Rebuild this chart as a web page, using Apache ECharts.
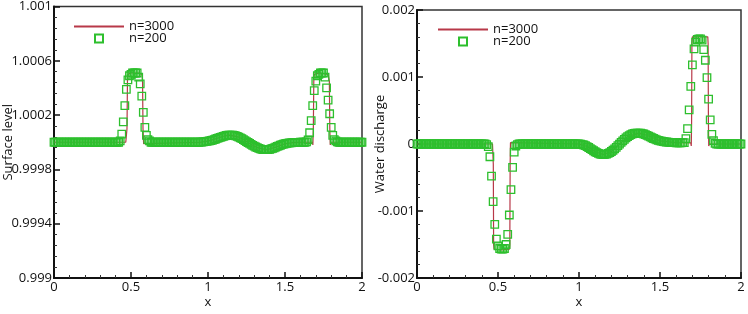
<!DOCTYPE html>
<html>
<head>
<meta charset="utf-8">
<script src="https://cdn.jsdelivr.net/npm/echarts@6/dist/echarts.min.js"></script>
<style>
  html, body { margin: 0; padding: 0; background: #fff; }
  #main { width: 748px; height: 314px; }
</style>
</head>
<body>
<div id="main"></div>
<script>
// n=200 mesh values, one per cell (x = 0, 0.01, ... 2)
var level200 = [
  1, 1, 1, 1, 1, 1, 1, 1, 1, 1,
  1, 1, 1, 1, 1, 1, 1, 1, 1, 1,
  1, 1, 1, 1, 1, 1, 1, 1, 1, 1,
  1, 1, 1, 1, 1, 1, 1, 1, 1, 1,
  1, 1, 1, 1.00001, 1.00006, 1.00015, 1.00027, 1.00039, 1.00046, 1.00049,
  1.0005, 1.00051, 1.00051, 1.00051, 1.00051, 1.00048, 1.00043, 1.00034, 1.00022, 1.00011,
  1.00005, 1.00002, 1.00001, 1, 1, 1, 1, 1, 1, 1,
  1, 1, 1, 1, 1, 1, 1, 1, 1, 1,
  1, 1, 1, 1, 1, 1, 1, 1, 1, 1,
  1, 1, 1, 1, 1, 1.000001, 1.000002, 1.000003, 1.000004, 1.000006,
  1.000008, 1.00001, 1.000013, 1.000016, 1.00002, 1.000024, 1.000028, 1.000032, 1.000036, 1.00004,
  1.000044, 1.000047, 1.00005, 1.000052, 1.000053, 1.000053, 1.000052, 1.00005, 1.000047, 1.000043,
  1.000038, 1.000032, 1.000026, 1.000019, 1.000012, 1.000005, 0.999998, 0.999991, 0.999984, 0.999977,
  0.999971, 0.999965, 0.99996, 0.999955, 0.999951, 0.999948, 0.999946, 0.999945, 0.999945, 0.999946,
  0.999948, 0.999951, 0.999955, 0.999959, 0.999964, 0.999969, 0.999974, 0.999978, 0.999982, 0.999986,
  0.999989, 0.999991, 0.999993, 0.999995, 0.999996, 0.999997, 0.999998, 0.999998, 0.999999, 0.999999,
  1, 1, 1, 1, 1.000003, 1.000018, 1.00007, 1.00016, 1.00027, 1.00038,
  1.00045, 1.00049, 1.0005, 1.00051, 1.00051, 1.00051, 1.00048, 1.0004, 1.00031, 1.00021,
  1.00011, 1.00005, 1.00002, 1.00001, 1.000003, 1, 1, 1, 1, 1,
  1, 1, 1, 1, 1, 1, 1, 1, 1, 1,
  1
];
var discharge200 = [
  0, 0, 0, 0, 0, 0, 0, 0, 0, 0,
  0, 0, 0, 0, 0, 0, 0, 0, 0, 0,
  0, 0, 0, 0, 0, 0, 0, 0, 0, 0,
  0, 0, 0, 0, 0, 0, 0, 0, 0, 0,
  0, 0, 0, -0.00001, -0.00004, -0.00019, -0.00048, -0.00086, -0.0012, -0.00142,
  -0.00152, -0.00156, -0.00157, -0.00157, -0.00156, -0.0015, -0.00135, -0.00106, -0.00068, -0.00035,
  -0.00012, -0.00003, -0.00001, 0, 0, 0, 0, 0, 0, 0,
  0, 0, 0, 0, 0, 0, 0, 0, 0, 0,
  0, 0, 0, 0, 0, 0, 0, 0, 0, 0,
  0, 0, 0, 0, 0, 0, 0, 0, 0, 0,
  0, -0.000003, -0.000008, -0.000015, -0.000025, -0.000038, -0.000052, -0.000068, -0.000085, -0.000101,
  -0.000116, -0.00013, -0.000141, -0.00015, -0.000155, -0.000157, -0.000155, -0.00015, -0.000141, -0.000128,
  -0.000112, -0.000093, -0.000072, -0.000049, -0.000025, -0.000001, 0.000023, 0.000047, 0.00007, 0.000091,
  0.00011, 0.000126, 0.00014, 0.00015, 0.000157, 0.000161, 0.000163, 0.000163, 0.000161, 0.000156,
  0.000149, 0.00014, 0.000129, 0.000117, 0.000105, 0.000093, 0.000082, 0.000072, 0.000063, 0.000055,
  0.000048, 0.000042, 0.000037, 0.000033, 0.00003, 0.000027, 0.000025, 0.000023, 0.000021, 0.00002,
  0.000019, 0.000018, 0.000018, 0.000018, 0.00002, 0.00002, 0.00008, 0.00023, 0.00051, 0.00086,
  0.00118, 0.00142, 0.00152, 0.00156, 0.00157, 0.00157, 0.00155, 0.00141, 0.00125, 0.00099,
  0.00067, 0.00036, 0.000145, 0.00005, 0.00001, 0, 0, 0, 0, 0,
  0, 0, 0, 0, 0, 0, 0, 0, 0, 0,
  0
];

var levelFineX = [0, 0.466, 0.47, 0.474, 0.477, 0.48, 0.5, 0.55, 0.572, 0.575, 0.578, 0.582, 0.586,
  0.95, 1.0, 1.05, 1.1, 1.14, 1.2, 1.26, 1.32, 1.38, 1.44, 1.5, 1.55, 1.6,
  1.678, 1.681, 1.684, 1.687, 1.69, 1.72, 1.78, 1.788, 1.791, 1.794, 1.798, 2];
var levelFineY = [1, 1, 0.99999, 1.0001, 1.00045, 1.0005, 1.00051, 1.00051, 1.0005, 1.00045, 1.0001, 0.99999, 1,
  1, 1.000008, 1.000026, 1.000044, 1.000053, 1.000038, 0.999998, 0.99996, 0.999945, 0.999964, 0.999989, 0.999997, 1,
  1, 0.99998, 1.0001, 1.00045, 1.0005, 1.00051, 1.0005, 1.00045, 1.0001, 0.99998, 1, 1];

var dischargeFineX = [0, 0.466, 0.469, 0.471, 0.473, 0.476, 0.52, 0.571, 0.573, 0.575, 0.577, 0.58,
  1.0, 1.05, 1.1, 1.15, 1.2, 1.25, 1.3, 1.37, 1.42, 1.5, 1.6,
  1.69, 1.693, 1.695, 1.697, 1.7, 1.795, 1.797, 1.799, 1.801, 1.805, 2];
var dischargeFineY = [0, 0, 0.00002, -0.0003, -0.0015, -0.00157, -0.00158, -0.00157, -0.0015, -0.0003, 0.00002, 0,
  0, -0.000038, -0.000116, -0.000157, -0.000112, -0.000001, 0.00011, 0.000163, 0.00013, 0.000048, 0.000019,
  0.000018, -0.00003, 0.0003, 0.0015, 0.0016, 0.0016, 0.0015, 0.0003, -0.00003, 0, 0];

var x200 = [];
for (var i = 0; i <= 200; i++) x200.push(+(i * 0.01).toFixed(2));

function pairs(xs, ys) {
  return xs.map(function (x, k) { return [x, ys[k]]; });
}

var RED = '#b83848';
var GREEN = '#2dbf2d';
var FONT = '"Open Sans", "DejaVu Sans", sans-serif';

function xAx(idx) {
  return {
    type: 'value', gridIndex: idx, min: 0, max: 2, interval: 0.5,
    name: 'x', nameLocation: 'middle', nameGap: 18, nameMoveOverlap: false,
    nameTextStyle: { color: '#111', fontSize: 13, fontFamily: FONT },
    axisLine: { onZero: false, lineStyle: { color: '#111', width: 2 } },
    axisTick: { inside: true, length: 6, lineStyle: { color: '#111', width: 1.5 } },
    minorTick: { show: true, splitNumber: 5, length: 3, lineStyle: { color: '#333', width: 1 } },
    axisLabel: { color: '#111', fontSize: 13, fontFamily: FONT, margin: 3 },
    splitLine: { show: false }
  };
}
function yAx(idx, name, min, max, step, gap) {
  return {
    type: 'value', gridIndex: idx, min: min, max: max, interval: step,
    name: name, nameLocation: 'middle', nameGap: gap, nameMoveOverlap: false,
    nameTextStyle: { color: '#111', fontSize: 13, fontFamily: FONT },
    axisLine: { onZero: false, lineStyle: { color: '#111', width: 2 } },
    axisTick: { inside: true, length: 6, lineStyle: { color: '#111', width: 1.5 } },
    minorTick: { show: true, splitNumber: 5, length: 3, lineStyle: { color: '#333', width: 1 } },
    axisLabel: { color: '#111', fontSize: 13, fontFamily: FONT, margin: 2 },
    splitLine: { show: false }
  };
}
function legendAt(left, top) {
  return {
    left: left, top: top, orient: 'vertical', padding: 0, itemGap: -1,
    itemWidth: 50, itemHeight: 10,
    textStyle: { color: '#111', fontSize: 13, fontFamily: FONT },
    data: [
      { name: 'n=3000', itemStyle: { opacity: 0 } },
      { name: 'n=200', lineStyle: { opacity: 0 } }
    ]
  };
}
function fineSeries(idx, data) {
  return {
    name: 'n=3000', type: 'line', xAxisIndex: idx, yAxisIndex: idx,
    data: data, showSymbol: false, symbol: 'none', z: 2,
    lineStyle: { color: RED, width: 1.2 }, itemStyle: { color: RED }
  };
}
function coarseSeries(idx, data) {
  return {
    name: 'n=200', type: 'line', xAxisIndex: idx, yAxisIndex: idx,
    data: data, symbol: 'rect', symbolSize: 7.5, showSymbol: true, clip: false, z: 3,
    lineStyle: { width: 0, opacity: 0 },
    itemStyle: { color: 'rgba(0,0,0,0)', borderColor: GREEN, borderWidth: 1.3 }
  };
}

var chart = echarts.init(document.getElementById('main'));
chart.setOption({
  animation: false,
  grid: [
    { left: 54, right: 386, top: 6, bottom: 27, show: true, borderColor: '#333', borderWidth: 1.5 },
    { left: 417, right: 7, top: 10, bottom: 27, show: true, borderColor: '#333', borderWidth: 1.5 }
  ],
  legend: [legendAt(73, 20), legendAt(437, 23)],
  xAxis: [xAx(0), xAx(1)],
  yAxis: [
    yAx(0, 'Surface level', 0.999, 1.001, 0.0004, 39),
    yAx(1, 'Water discharge', -0.002, 0.002, 0.001, 30)
  ],
  series: [
    fineSeries(0, pairs(levelFineX, levelFineY)),
    coarseSeries(0, pairs(x200, level200)),
    fineSeries(1, pairs(dischargeFineX, dischargeFineY)),
    coarseSeries(1, pairs(x200, discharge200))
  ]
});
</script>
</body>
</html>
